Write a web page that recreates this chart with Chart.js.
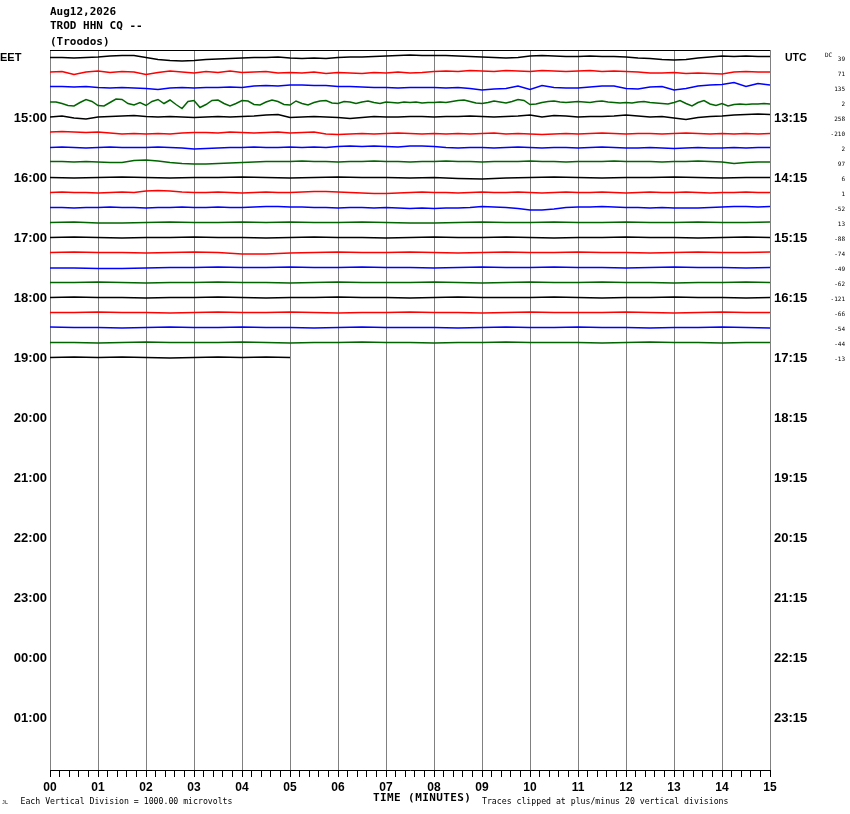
<!DOCTYPE html>
<html><head><meta charset="utf-8">
<script src="https://cdn.jsdelivr.net/npm/chart.js@4.4.1/dist/chart.umd.min.js"></script>
<style>
html,body{margin:0;padding:0;background:#fff;}
#wrap{position:relative;width:850px;height:814px;overflow:hidden;}
canvas{position:absolute;left:0;top:0;}
.t{position:absolute;white-space:pre;color:#000;font-family:"DejaVu Sans Mono",monospace;}
.hd{font-weight:bold;font-size:11px;line-height:12px;left:50px;}
.sm{font-size:8.2px;line-height:10px;}
</style></head><body>
<div id="wrap">
<canvas id="c" width="850" height="814"></canvas>
<div class="t hd" style="top:5.5px;">Aug12,2026</div>
<div class="t hd" style="top:20px;">TROD HHN CQ --</div>
<div class="t hd" style="top:36px;">(Troodos)</div>
<div class="t" style="left:373px;top:791.5px;font-weight:bold;font-size:11px;line-height:12px;letter-spacing:0.4px;">TIME (MINUTES)</div>
<div class="t sm" style="left:2px;top:797px;font-size:5px;">JL</div>
<div class="t sm" style="left:20.5px;top:795.7px;">Each Vertical Division = 1000.00 microvolts</div>
<div class="t sm" style="left:482px;top:795.7px;">Traces clipped at plus/minus 20 vertical divisions</div>
</div>
<script>
// ---- data ----
const MINUTE_LABELS = ['00','01','02','03','04','05','06','07','08','09','10','11','12','13','14','15'];
const EET_LABELS = ['15:00','16:00','17:00','18:00','19:00','20:00','21:00','22:00','23:00','00:00','01:00'];
const UTC_LABELS = ['13:15','14:15','15:15','16:15','17:15','18:15','19:15','20:15','21:15','22:15','23:15'];
const HOUR_ROWS = [4,8,12,16,20,24,28,32,36,40,44];
const DC_OFFSETS = [39,71,135,2,258,-210,2,97,6,1,-52,13,-88,-74,-49,-62,-121,-66,-54,-44,-13];
const TOTAL_ROWS = 48;
const AMP_PER_DIV = 15; // amplitude units per vertical division
const STEP_MIN = [0.25,0.25,0.25,0.125,0.25,0.25,0.25,0.25,0.5,0.25,0.25,0.5,0.5,0.5,0.5,0.5,0.5,0.5,0.5,0.5,0.5];
const TRACE_COLORS = ['#000000','#ff0000','#0000ff','#006400'];

const T0 = [0,0,-0.5,0,0.5,1.5,2,2,0,-2,-3,-3.5,-3,-2,-1.5,-1,-0.5,0,0,0.5,-0.5,-1,-0.5,-1,0,0.5,0.5,1,1.5,2,2.5,2,2,2,1.5,1,0.5,0,-0.5,0,1.5,2,1.5,1,1,1.5,1,1,0.5,-0.5,-1,-2,-2.5,-2,-0.5,0.5,1.5,1,1.5,1,1];
const T1 = [0.5,1,-2,0.5,1.5,0,1,0.5,-2,0,1.5,0.5,-0.5,1,0,1.5,0,0.5,1,-0.5,0,-0.5,0.5,-1,0,-0.5,-1,0,-0.5,0.5,-0.5,0,1,1.5,1,2,1.5,1,2,1.5,1,2,1.5,1,1.5,2,1,1.5,1,0.5,-0.5,-0.5,0,-1,-0.5,-1,-1.5,0.5,1,0.5,0.5];
const T2 = [1,1,0.5,1,0,-0.5,0,-0.5,-1,-2,-0.5,0,-0.5,0,0,0.5,0,1.5,2,1.5,2.5,2.5,2,2,1,1,0.5,0,0,-0.5,0,0,0,-0.5,0,-1,-2.5,-1.5,-1,1.5,-2,2,0,-0.5,-0.5,0.5,1.5,1.5,-1,-1.5,0.5,1,-2.5,-1,1.5,2.5,3,5,1,4,2.5];
const T3 = [0.5,0.5,-1,-3,-3.5,0,3,1,-3,-3.5, 0,3.5,3,-1,-2.5,0,-3,1,3,-1, 2.5,-2,-6,1,2,-5,-2,2,2.5,-1, -3.5,-1,2,1.5,-2,-2.5,0.5,2.5,1,-2, -2.5,1.5,-1,-2.5,0,1.5,2,-0.5,-1,1, 0.5,-1,0.5,1.5,0,-1,0.5,0,-0.5,0.5, 0,0.5,-0.5,0,0,0.5,0,1,2,2.5, 1,-0.5,-1,0,1.5,0.5,-0.5,1,3,2, -2,-1.5,0,1,1.5,0.5,0,0.5,1,0.5, 0,1,1.5,0.5,0,-0.5,0,-0.5,0.5,1, 0,-0.5,-1,-1.5,0,2,-1,-3.5,0,2, -1.5,-3,-1,-3.5,-2,-1.5,-2,-1.5,-1.5,-1, -1.5];
const T4 = [0.5,1.5,-0.5,-1.5,0.5,1,1.5,2,1,0.5,1,0.5,0,0.5,1,0.5,1,1.5,2.5,3,0,0.5,1,0.5,0,-1,0,1,0.5,0.5,1,1,0.5,1,1,1.5,1,0.5,1,1.5,2.5,0.5,2,1.5,0.5,1,1,1.5,2.5,1.5,0.5,1,-0.5,-2,0,1,1.5,2.5,3,3.5,3];
const T5 = [0.5,1,0.5,0,0.5,-0.5,-1.5,-1,-1.5,-1,-1.5,-0.5,0,0,-0.5,0.5,0,-0.5,0,0.5,-0.5,0,0.5,-1.5,-2,-1.5,-1,-1.5,-1,-0.5,-1,-1.5,-1,-1.5,-1,-1.5,-1,-0.5,-1.5,-1,-1.5,-2,-1.5,-1,-1.5,-1,-0.5,-1,-1.5,-1,-1,-1.5,-1,-0.5,-1,-1.5,-1,-1.5,-1,-1.5,-1];
const T6 = [0,0.5,0,-0.5,0,0.5,0,0,0,0.5,0,-0.5,-1.5,-1,-0.5,0,0,0.5,0,0,0.5,0,0.5,0,1,1.5,1,1.5,1,0.5,1.5,1.5,1,0,-0.5,0,0,-0.5,0,0.5,0,-0.5,0,0,-0.5,0,0.5,0,-0.5,-0.5,0,-0.5,-1,-0.5,0,-0.5,-0.5,0,-0.5,0,0];
const T7 = [1,1,0.5,1,0.5,0,0,2,2.5,1.5,0,-1,-1.5,-1.5,-1,-0.5,0,0.5,1,1,1,1.5,1,1,0.5,1,1,1.5,1,1,0.5,1,1,1.5,1,1,0.5,1,1,1,1.5,1,1,0.5,1,1,1,1.5,1,1,1,0.5,1,1,1.5,1,0.5,-1,0,0.5,0.5];
const T8 = [0,-0.5,0,0.5,0,-0.5,0,0,0.5,0,-0.5,0,0.5,0,0,-0.5,0,-1,-1.5,-0.5,0,0.5,0,-0.5,0,0,0.5,0,-0.5,0,0];
const T9 = [0,0.5,0,0,-0.5,0,0.5,0,1.5,2,1.5,0.5,0,0,0.5,0,-0.5,0,0.5,0,0,0.5,1,1,0.5,0,-0.5,-1,-1,-0.5,0,0.5,0,0,-0.5,0,0.5,0,0,0.5,0,-0.5,0,0.5,0,0,0.5,0,-0.5,0,0.5,0,0,0.5,0,-0.5,0,0,0.5,0,0];
const T10 = [0,0,-0.5,0,0,0.5,0,0,-0.5,0,0,0.5,0,0,0.5,0,0,0.5,1,1,0.5,0.5,0,0,-0.5,0,0,-0.5,0,-0.5,-1,-0.5,-1,-0.5,-0.5,0,1,0.5,0,-1,-2.5,-2.5,-1.5,0,0.5,0.5,1,0.5,0,0,-0.5,0,-0.5,-0.5,-0.5,0,0.5,1,1,0.5,1];
const T11 = [0,0.5,-0.5,-0.5,0,0.5,0,0,0.5,0,0.5,0,0,0.5,0,-0.5,-0.5,0,0.5,0,0,0.5,0,0,0.5,0,0,0.5,0,0,0.5];
const T12 = [0,0.5,0,-0.5,0,0,0.5,0,0,-0.5,0,0.5,0,0,-0.5,0,0.5,0,0,0.5,0,-0.5,0,0,0.5,0,0,-0.5,0,0.5,0];
const T13 = [0,0.5,0,0,-0.5,0,0.5,0,-1.5,-1.5,-0.5,0,0.5,0,0,0.5,0,-0.5,0,0.5,0,0,0.5,0,0,-0.5,0,0.5,0,0,0.5];
const T14 = [-0.5,-0.5,-1,-1,-0.5,0,0,0.5,0,0,0.5,0,0,0.5,0,0,-0.5,0,0.5,0,0,0.5,0,0,-0.5,0,0.5,0,0,-0.5,0];
const T15 = [0,0,0.5,0,-0.5,0,0,0.5,0,0,-0.5,0,0.5,0,0,0,0.5,0,-0.5,0,0.5,0,0,0.5,0,0,-0.5,0,0,0.5,0];
const T16 = [0,0.5,0,0,-0.5,0,0,0.5,0,-0.5,0,0,0.5,0,0,-0.5,0,0.5,0,0,0,0.5,0,-0.5,0,0,0.5,0,0,-0.5,0];
const T17 = [0,0,0.5,0,0,-0.5,0,0.5,0,0,0.5,0,-0.5,0,0,0.5,0,0,-0.5,0,0.5,0,0,0,0.5,0,-0.5,0,0.5,0,0];
const T18 = [0.5,0,0,-0.5,0,0.5,0,0,0.5,0,0,-0.5,0,0.5,0,0,0,-0.5,0,0.5,0,0,0.5,0,0,-0.5,0,0,0.5,0,-0.5];
const T19 = [0,0,-0.5,0,0.5,0,0,0,0.5,0,-0.5,0,0,0.5,0,0,-0.5,0,0,0.5,0,0,0,-0.5,0,0.5,0,0,-0.5,0,0];
const T20 = [0,0.5,0,0.5,0,-0.5,0,0.5,0,0.5,0];
const TRACES = [T0,T1,T2,T3,T4,T5,T6,T7,T8,T9,T10,T11,T12,T13,T14,T15,T16,T17,T18,T19,T20];

// ---- chart ----
const datasets = TRACES.map((vals,k)=>({
  data: vals.map((v,i)=>({x: i*STEP_MIN[k], y: k + 0.5 - v/AMP_PER_DIV})),
  borderColor: TRACE_COLORS[k%4],
  borderWidth: 1.5,
  pointRadius: 0,
  tension: 0,
  fill: false,
  xAxisID:'x', yAxisID:'y'
}));

const hourFont = {family:'"Liberation Sans", Arial, sans-serif', size:13, weight:'bold'};
const LABEL_NUDGE = 0.07; // rows

const sideText = {
  id:'sideText',
  afterDraw(chart){
    const c = chart.ctx, ys = chart.scales.y, area = chart.chartArea;
    c.save();
    c.strokeStyle='#000'; c.lineWidth=1;
    c.beginPath(); c.moveTo(area.left, area.top+0.5); c.lineTo(area.right, area.top+0.5); c.stroke();
    c.fillStyle='#000';
    c.textBaseline='alphabetic';
    c.font='bold 11px "Liberation Sans", Arial, sans-serif';
    c.textAlign='left';
    c.fillText('EET', 0, ys.getPixelForValue(0.5)+3);
    c.font='bold 10.5px "Liberation Sans", Arial, sans-serif';
    c.fillText('UTC', 785, ys.getPixelForValue(0.5)+3.5);
    c.font='6px "DejaVu Sans Mono", monospace';
    c.fillText('DC', 825, ys.getPixelForValue(0.5)-0.5);
    c.textAlign='right';
    DC_OFFSETS.forEach((v,k)=>{
      c.fillText(String(v), 845, ys.getPixelForValue(k+0.5)+3.2);
    });
    c.restore();
  }
};

new Chart(document.getElementById('c').getContext('2d'), {
  type:'line',
  data:{datasets},
  options:{
    responsive:false, animation:false, devicePixelRatio:1,
    layout:{padding:{top:50,left:0,right:0,bottom:0}},
    plugins:{legend:{display:false}, tooltip:{enabled:false}},
    scales:{
      x:{
        type:'linear', min:0, max:15, position:'bottom',
        afterBuildTicks:(s)=>{ const t=[]; for(let i=0;i<=75;i++) t.push({value:i/5}); s.ticks=t; },
        afterFit:(s)=>{ s.height=44; },
        ticks:{autoSkip:false, maxRotation:0, minRotation:0, padding:3, color:'#000',
          font:{family:'"Liberation Sans", Arial, sans-serif', size:12, weight:'bold'},
          callback:(v,i)=> (i%5===0 ? MINUTE_LABELS[i/5] : '')},
        grid:{color:(ctx)=> (ctx.index%5===0 ? '#808080' : 'rgba(0,0,0,0)'), lineWidth:1,
          tickColor:'#000', tickLength:7, drawTicks:true},
        border:{display:true, color:'#000', width:1}
      },
      y:{
        type:'linear', min:0, max:TOTAL_ROWS, reverse:true, position:'left',
        afterBuildTicks:(s)=>{ s.ticks = HOUR_ROWS.map(r=>({value:r+0.5+LABEL_NUDGE})); },
        afterFit:(s)=>{ s.width=50; },
        ticks:{autoSkip:false, padding:3, color:'#000', font:hourFont,
          callback:(v,i)=>EET_LABELS[i]},
        grid:{display:false, drawTicks:false}, border:{display:false}
      },
      yR:{
        type:'linear', min:0, max:TOTAL_ROWS, reverse:true, position:'right',
        afterBuildTicks:(s)=>{ s.ticks = HOUR_ROWS.map(r=>({value:r+0.5+LABEL_NUDGE})); },
        afterFit:(s)=>{ s.width=80; },
        ticks:{autoSkip:false, padding:4, color:'#000', font:hourFont,
          callback:(v,i)=>UTC_LABELS[i]},
        grid:{display:false, drawTicks:false}, border:{display:false}
      }
    }
  },
  plugins:[sideText]
});
</script>
</body></html>
